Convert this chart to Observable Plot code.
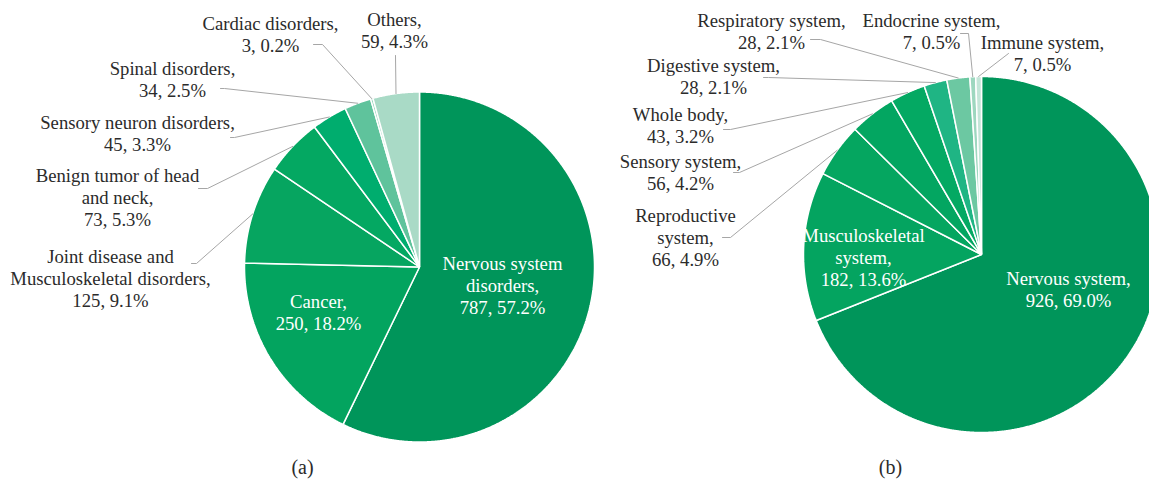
<!DOCTYPE html>
<html><head><meta charset="utf-8">
<script src="https://cdn.jsdelivr.net/npm/d3@7"></script>
<script src="https://cdn.jsdelivr.net/npm/@observablehq/plot@0.6"></script>
<style>
html,body{margin:0;padding:0;background:#fff;}
#chart svg{display:block}
#chart svg, #chart svg text{font-family:"Liberation Serif", serif !important;}
</style></head><body><div id="chart"></div>
<script>
// ---------- Data: panel (a) ----------
const categoriesA = ["Nervous system\ndisorders","Cancer","Joint disease and\nMusculoskeletal disorders","Benign tumor of head\nand neck","Sensory neuron disorders","Spinal disorders","Cardiac disorders","Others"];
const countsA = [787,250,125,73,45,34,3,59];
const percentsA = [57.2,18.2,9.1,5.3,3.3,2.5,0.2,4.3];
// ---------- Data: panel (b) ----------
const categoriesB = ["Nervous system","Musculoskeletal\nsystem","Reproductive\nsystem","Sensory system","Whole body","Digestive system","Respiratory system","Endocrine system","Immune system"];
const countsB = [926,182,66,56,43,28,28,7,7];
const percentsB = [69.0,13.6,4.9,4.2,3.2,2.1,2.1,0.5,0.5];
const panelLabels = ["(a)","(b)"];

// ---------- Styles ----------
const colorsA = ["#00955a","#03a45f","#06a560","#04a862","#00ad6e","#5fc39c","#8fd2b8","#a9dac6"];
const colorsB = ["#00955a","#04a460","#05a660","#03a661","#04a963","#1fb584","#6cc8a2","#9dd7bf","#c3e6d8"];
const textColor = "#2b2b2b";
const leaderColor = "#a6a6a6";
const fontFamily = "Liberation Serif";
const fontSize = 18.7;
const lineHeight = 22 / 18.7;

// ---------- Layout ----------
const W = 1149, H = 479;
const pieA = {cx: 419, cy: 266.5, r: 175};
const pieB = {cx: 981, cy: 254, r: 178};
// label block centres and leader start/elbow points
const layoutA = [
  {x: 502, y: 284, inside: true},
  {x: 318, y: 311.5, inside: true},
  {x: 110, y: 277, leader: [[191,263],[196,263]]},
  {x: 117, y: 196, leader: [[198,188],[207,188]]},
  {x: 137, y: 132.5, leader: [[230,137],[234,137]]},
  {x: 172, y: 78.5, leader: [[220,88],[224,88]]},
  {x: 270, y: 33.5, leader: [[313,44],[322,44]]},
  {x: 394, y: 29, leader: [[395,55]]}
];
const layoutB = [
  {x: 1068, y: 288, inside: true},
  {x: 863, y: 256, inside: true},
  {x: 685, y: 236, leader: [[722,237],[730,237]]},
  {x: 680, y: 171, leader: [[733,172],[739,172]]},
  {x: 680, y: 124, leader: [[723,129],[730,129]]},
  {x: 713, y: 75.5, leader: [[763,77],[768,77]]},
  {x: 771, y: 30.5, leader: [[810,39],[820,39]]},
  {x: 931, y: 30, leader: [[960,33],[968,33]]},
  {x: 1042, y: 52, leader: [[1008,53]]}
];
const captionPos = [{x: 302, y: 467}, {x: 890, y: 467}];

// ---------- Build ----------
function build(prefix, cats, counts, pcts, pie, layout) {
  const arcs = d3.pie().sort(null).value(d => d)(counts);
  const wedges = [], leaders = [], labels = [];
  arcs.forEach((a, i) => {
    const key = prefix + i;
    const n = Math.max(2, Math.ceil((a.endAngle - a.startAngle) / 0.005));
    wedges.push({key, x: pie.cx, y: pie.cy});
    for (let k = 0; k <= n; k++) {
      const t = a.startAngle + (a.endAngle - a.startAngle) * k / n;
      wedges.push({key, x: pie.cx + pie.r * Math.sin(t), y: pie.cy - pie.r * Math.cos(t)});
    }
    const L = layout[i];
    const text = cats[i] + ",\n" + counts[i] + ", " + pcts[i].toFixed(1) + "%";
    labels.push({x: L.x, y: L.y, text, inside: !!L.inside});
    if (L.leader) {
      const mid = (a.startAngle + a.endAngle) / 2;
      L.leader.forEach(p => leaders.push({key, x: p[0], y: p[1]}));
      leaders.push({key, x: pie.cx + pie.r * Math.sin(mid), y: pie.cy - pie.r * Math.cos(mid)});
    }
  });
  return {wedges, leaders, labels};
}
const A = build("a", categoriesA, countsA, percentsA, pieA, layoutA);
const B = build("b", categoriesB, countsB, percentsB, pieB, layoutB);
const wedges = A.wedges.concat(B.wedges);
const leaders = A.leaders.concat(B.leaders);
const labels = A.labels.concat(B.labels);
const keys = categoriesA.map((_, i) => "a" + i).concat(categoriesB.map((_, i) => "b" + i));
const captions = panelLabels.map((t, i) => ({text: t, x: captionPos[i].x, y: captionPos[i].y}));

const chart = Plot.plot({
  width: W, height: H, margin: 0,
  style: {fontFamily, background: "#fff", overflow: "hidden"},
  x: {domain: [0, W], range: [0, W], axis: null},
  y: {domain: [0, H], range: [0, H], axis: null},
  color: {domain: keys, range: colorsA.concat(colorsB)},
  marks: [
    Plot.line(wedges, {x: "x", y: "y", z: "key", fill: "key", stroke: "white", strokeWidth: 1.5, curve: "linear-closed", strokeLinejoin: "miter"}),
    Plot.line(leaders, {x: "x", y: "y", z: "key", stroke: leaderColor, strokeWidth: 1}),
    Plot.text(labels.filter(d => !d.inside), {x: "x", y: "y", text: "text", fill: textColor, fontSize, lineHeight, textAnchor: "middle", fontFamily}),
    Plot.text(labels.filter(d => d.inside), {x: "x", y: "y", text: "text", fill: "white", fontSize, lineHeight, textAnchor: "middle", fontFamily}),
    Plot.text(captions, {x: "x", y: "y", text: "text", fill: textColor, fontSize: 20, textAnchor: "middle", fontFamily})
  ]
});
document.getElementById("chart").appendChild(chart);
</script>
</body></html>
